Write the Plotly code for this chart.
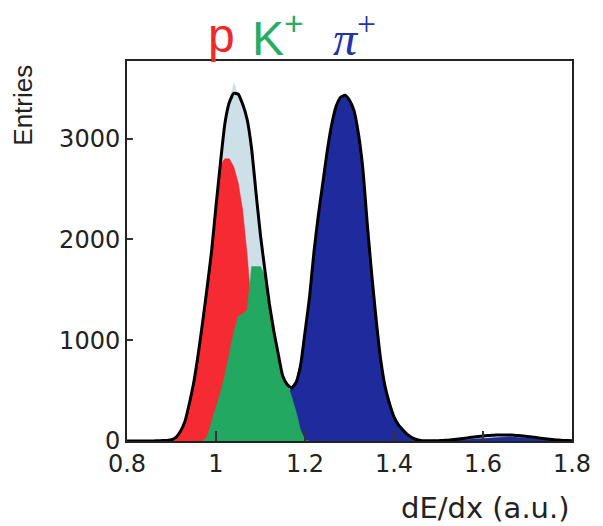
import plotly.graph_objects as go

# ---- data, bins of 0.01 in dE/dx ----
step = 0.01

proton_start = 0.90
proton_counts = [10, 35, 95, 190, 370, 580, 860, 1180, 1520, 1880,
                 2320, 2740, 2800, 2800, 2720, 2560, 2290, 1850, 1300, 900,
                 600, 380, 220, 120, 60, 25, 10, 0]

kaon_start = 0.97
kaon_counts = [0, 40, 190, 330, 480, 650, 850, 1080, 1240, 1260,
               1300, 1730, 1730, 1730, 1640, 1390, 1100, 870, 650, 570,
               440, 290, 110, 10, 0]

pion_start = 1.10
pion_counts = [20, 60, 120, 200, 300, 400, 470, 530, 600, 770,
               1080, 1420, 1880, 2240, 2570, 2890, 3150, 3330, 3420, 3440,
               3390, 3280, 3060, 2710, 2160, 1660, 1210, 820, 550, 380,
               250, 165, 110, 65, 35, 15, 5, 0, 0, 0,
               0, 2, 4, 7, 10, 13, 16, 20, 24, 27,
               30, 33, 36, 38, 40, 41, 41, 40, 37, 33,
               29, 25, 20, 16, 12, 9, 6, 4, 2, 1, 0]

total_start = 0.99
total_counts = [1880, 2300, 2740, 3130, 3380, 3560, 3440, 3330, 3150, 2860,
                2440, 2010, 1650, 1330, 1060, 850, 640, 550, 500, 560, 0]

fit_start = 0.80
fit_values = [0, 0, 0, 0, 0, 0, 1, 2, 4, 6,
              12, 35, 95, 190, 370, 580, 860, 1180, 1520, 1880,
              2330, 2760, 3150, 3360, 3450, 3440, 3340, 3190, 2900, 2460,
              2040, 1690, 1360, 1090, 860, 645, 560, 525, 580, 750,
              1080, 1420, 1870, 2240, 2560, 2880, 3140, 3320, 3410, 3430,
              3380, 3280, 3050, 2700, 2150, 1650, 1200, 810, 540, 370,
              240, 160, 110, 65, 35, 15, 6, 3, 2, 2,
              3, 5, 8, 12, 17, 22, 28, 34, 40, 45,
              50, 54, 57, 59, 60, 60, 60, 58, 55, 50,
              45, 40, 34, 28, 22, 17, 13, 9, 6, 4, 3]

x_tickvals = [0.8, 1.0, 1.2, 1.4, 1.6, 1.8]
x_ticktext = ["0.8", "1", "1.2", "1.4", "1.6", "1.8"]
y_tickvals = [0, 1000, 2000, 3000]
y_ticktext = ["0", "1000", "2000", "3000"]


def xs(start, n):
    return [round(start + i * step, 4) for i in range(n)]


FONT = "Liberation Sans, Arial, Helvetica, sans-serif"
WIDE = "DejaVu Sans, Verdana, sans-serif"

fig = go.Figure()

fig.add_trace(go.Scatter(x=xs(total_start, len(total_counts)), y=total_counts,
                         mode="lines", line=dict(width=0, color="#cde0e8"),
                         fill="tozeroy", fillcolor="#cde0e8", hoverinfo="skip"))
fig.add_trace(go.Scatter(x=xs(pion_start, len(pion_counts)), y=pion_counts,
                         mode="lines", line=dict(width=0.5, color="#1f2b9c"),
                         fill="tozeroy", fillcolor="#1f2b9c", hoverinfo="skip"))
fig.add_trace(go.Scatter(x=xs(proton_start, len(proton_counts)), y=proton_counts,
                         mode="lines", line=dict(width=0.5, color="#f52a32"),
                         fill="tozeroy", fillcolor="#f52a32", hoverinfo="skip"))
fig.add_trace(go.Scatter(x=xs(kaon_start, len(kaon_counts)), y=kaon_counts,
                         mode="lines", line=dict(width=0.5, color="#23a862"),
                         fill="tozeroy", fillcolor="#23a862", hoverinfo="skip"))
fig.add_trace(go.Scatter(x=xs(fit_start, len(fit_values)), y=fit_values,
                         mode="lines", line=dict(width=3, color="black",
                                                 shape="spline", smoothing=0.5),
                         hoverinfo="skip"))

fig.update_layout(
    width=603, height=526,
    margin=dict(l=127, r=26, t=61, b=85),
    paper_bgcolor="white", plot_bgcolor="white",
    showlegend=False,
    font=dict(family=WIDE, size=24, color="#222222"),
)

fig.update_xaxes(range=[0.8, 1.8], tickvals=x_tickvals, ticktext=x_ticktext,
                 ticks="inside", ticklen=10, tickwidth=1.5, tickcolor="#333",
                 showline=True, linecolor="#222", linewidth=2, mirror=True,
                 showgrid=False, zeroline=False,
                 tickfont=dict(family=WIDE, size=24, color="#222"))
fig.update_yaxes(range=[0, 3770], tickvals=y_tickvals, ticktext=y_ticktext,
                 ticks="inside", ticklen=6, tickwidth=1.5, tickcolor="#333",
                 showline=True, linecolor="#222", linewidth=2, mirror=True,
                 showgrid=False, zeroline=False,
                 tickfont=dict(family=WIDE, size=24, color="#222"))

# axis titles
fig.add_annotation(text="dE/dx (a.u.)", xref="paper", yref="paper",
                   x=1.0, y=-0.176, xanchor="right", yanchor="middle",
                   showarrow=False, font=dict(family=WIDE, size=29, color="#222"))
fig.add_annotation(text="Entries", xref="paper", yref="paper",
                   x=-0.233, y=0.995, xanchor="center", yanchor="top",
                   textangle=-90, showarrow=False,
                   font=dict(family=FONT, size=26, color="#222"))

# particle labels
fig.add_annotation(text="p", xref="x", yref="paper", x=0.978, y=1.068,
                   xanchor="left", yanchor="middle", showarrow=False,
                   font=dict(family=FONT, size=48, color="#ee2a2a"))
fig.add_annotation(text="K<sup>+</sup>", xref="x", yref="paper", x=1.076, y=1.068,
                   xanchor="left", yanchor="middle", showarrow=False,
                   font=dict(family=FONT, size=48, color="#26ad62"))
fig.add_annotation(text="<i>π</i><sup>+</sup>", xref="x", yref="paper", x=1.258, y=1.068,
                   xanchor="left", yanchor="middle", showarrow=False,
                   font=dict(family="Liberation Serif, Times New Roman, serif", size=48,
                             color="#2334a6"))

fig.write_html("out.html")
